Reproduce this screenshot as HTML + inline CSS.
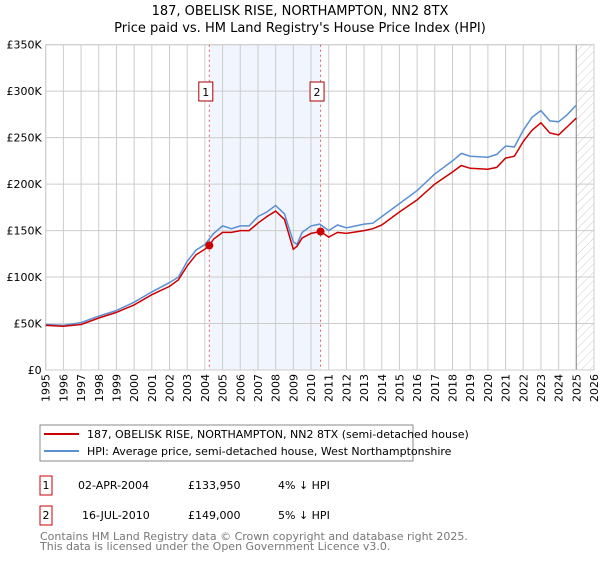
<!DOCTYPE html>
<html><head><meta charset="utf-8"><style>
body{margin:0;background:#fff;font-family:"DejaVu Sans","Liberation Sans",sans-serif;}
svg text{font-family:"DejaVu Sans","Liberation Sans",sans-serif;}
</style></head><body>
<svg id="chart" width="600" height="560" viewBox="0 0 600 560" xmlns="http://www.w3.org/2000/svg">
<defs><pattern id="hatch" patternUnits="userSpaceOnUse" width="6" height="6" patternTransform="rotate(45)"><line x1="0" y1="0" x2="0" y2="6" stroke="#ccc" stroke-width="1"/></pattern></defs>
<text x="300" y="15" text-anchor="middle" font-size="13">187, OBELISK RISE, NORTHAMPTON, NN2 8TX</text>
<text x="300" y="32" text-anchor="middle" font-size="13">Price paid vs. HM Land Registry's House Price Index (HPI)</text>
<g id="plot"></g>
<g>
<rect x="40" y="425" width="373" height="36" fill="#fff" stroke="#888"/>
<line x1="44" y1="434" x2="79" y2="434" stroke="#cc0000" stroke-width="2"/>
<text x="87" y="438" font-size="11">187, OBELISK RISE, NORTHAMPTON, NN2 8TX (semi-detached house)</text>
<line x1="44" y1="451" x2="79" y2="451" stroke="#5b8fd4" stroke-width="2"/>
<text x="87" y="455" font-size="11">HPI: Average price, semi-detached house, West Northamptonshire</text>
</g>
<g font-size="11">
<rect x="40" y="476" width="12" height="19" fill="#fff" stroke="#cc0000"/>
<text x="46" y="489" text-anchor="middle">1</text>
<text x="78" y="489">02-APR-2004</text>
<text x="188" y="489">£133,950</text>
<text x="278" y="489">4% ↓ HPI</text>
<rect x="40" y="506" width="12" height="19" fill="#fff" stroke="#cc0000"/>
<text x="46" y="519" text-anchor="middle">2</text>
<text x="82" y="519">16-JUL-2010</text>
<text x="188" y="519">£149,000</text>
<text x="278" y="519">5% ↓ HPI</text>
</g>
<text x="40" y="540" font-size="11" fill="#777">Contains HM Land Registry data © Crown copyright and database right 2025.</text>
<text x="40" y="550" font-size="11" fill="#777">This data is licensed under the Open Government Licence v3.0.</text>
</svg>
<script>
const hpiYears=[1995,1996,1997,1998,1999,2000,2001,2002,2002.5,2003,2003.5,2004,2004.5,2005,2005.5,2006,2006.5,2007,2007.5,2008,2008.5,2009,2009.2,2009.5,2010,2010.5,2011,2011.5,2012,2013,2013.5,2014,2015,2016,2017,2018,2018.5,2019,2020,2020.5,2021,2021.5,2022,2022.5,2023,2023.5,2024,2024.5,2025];
const hpiValues=[49000,48000,51000,58000,64000,73000,84000,94000,100000,117000,129000,135000,147000,155000,152000,155000,155000,165000,170000,177000,168000,138000,135000,148000,155000,157000,150000,156000,153000,157000,158000,165000,179000,193000,211000,225000,233000,230000,229000,232000,241000,240000,258000,272000,279000,268000,267000,275000,285000];
const propYears=[1995,1996,1997,1998,1999,2000,2001,2002,2002.5,2003,2003.5,2004,2004.25,2004.5,2005,2005.5,2006,2006.5,2007,2007.5,2008,2008.5,2009,2009.2,2009.5,2010,2010.54,2011,2011.5,2012,2013,2013.5,2014,2015,2016,2017,2018,2018.5,2019,2020,2020.5,2021,2021.5,2022,2022.5,2023,2023.5,2024,2024.5,2025];
const propValues=[48000,47000,49000,56000,62000,70000,81000,90000,97000,112000,124000,130000,133950,141000,148000,148000,150000,150000,158000,165000,171000,162000,130000,133000,142000,147000,149000,143000,148000,147000,150000,152000,156000,170000,183000,200000,213000,220000,217000,216000,218000,228000,230000,246000,258000,266000,255000,253000,262000,271000];
const saleYears=[2004.25,2010.54];
const saleValues=[133950,149000];
const saleLabels=["1","2"];
const yTicks=[0,50000,100000,150000,200000,250000,300000,350000];
const yTickLabels=["£0","£50K","£100K","£150K","£200K","£250K","£300K","£350K"];
const xTicks=[1995,1996,1997,1998,1999,2000,2001,2002,2003,2004,2005,2006,2007,2008,2009,2010,2011,2012,2013,2014,2015,2016,2017,2018,2019,2020,2021,2022,2023,2024,2025,2026];

const X0=45.7,X1=594,Y0=370,Y1=44.7;
const xs=y=>X0+(y-1995)/(2026-1995)*(X1-X0);
const ys=v=>Y0-v/350000*(Y0-Y1);
const NS="http://www.w3.org/2000/svg";
const plot=document.getElementById('plot');
function mk(tag,attrs){const e=document.createElementNS(NS,tag);for(const k in attrs)e.setAttribute(k,attrs[k]);plot.appendChild(e);return e;}

let band=mk('rect',{x:xs(saleYears[0]),y:Y1,width:xs(saleYears[1])-xs(saleYears[0]),height:Y0-Y1,fill:'#eef3fc',opacity:0.8});


let hatch=mk('rect',{x:xs(2025),y:Y1,width:X1-xs(2025),height:Y0-Y1,fill:'url(#hatch)'});


yTicks.forEach((t,i)=>{
  let g=mk('line',{x1:X0,x2:X1,y1:ys(t),y2:ys(t),stroke:'#cccccc','stroke-width':1});
  
  
  let tx=mk('text',{x:X0-4,y:ys(t)+4,'text-anchor':'end','font-size':'11'});
  tx.textContent=yTickLabels[i];
  
  
});
xTicks.forEach(t=>{
  let g=mk('line',{x1:xs(t),x2:xs(t),y1:Y1,y2:Y0,stroke:'#cccccc','stroke-width':1});
  
  
  const px=xs(t)+4, py=374;
  let tx=mk('text',{x:px,y:py,'text-anchor':'end','font-size':'11',transform:'rotate(-90 '+px.toFixed(1)+' '+py+')'});
  tx.textContent=t;
  
  
});
let vl=mk('line',{x1:xs(2025),x2:xs(2025),y1:Y1,y2:Y0,stroke:'#999','stroke-width':1.2});


let frame=mk('rect',{x:X0,y:Y1,width:X1-X0,height:Y0-Y1,fill:'none',stroke:'#cccccc'});


saleYears.forEach((y,i)=>{
  let l=mk('line',{x1:xs(y),x2:xs(y),y1:Y1,y2:Y0,stroke:'#e06060','stroke-width':1,'stroke-dasharray':'2,3'});
  
  
});
function path(xsArr,vs){return xsArr.map((y,i)=>(i?'L':'M')+xs(y).toFixed(1)+','+ys(vs[i]).toFixed(1)).join(' ');}
let hp=mk('path',{d:path(hpiYears,hpiValues),fill:'none',stroke:'#5b8fd4','stroke-width':1.5});


let pp=mk('path',{d:path(propYears,propValues),fill:'none',stroke:'#cc0000','stroke-width':1.5});


saleYears.forEach((y,i)=>{
  let c=mk('circle',{cx:xs(y),cy:ys(saleValues[i]),r:4,fill:'#cc0000'});
  
  
  let bx=xs(y)-3.5;
  let r=mk('rect',{x:bx-7,y:82,width:14,height:19,fill:'#fff',stroke:'#aa0000'});
  
  
  let t=mk('text',{x:bx,y:96,'text-anchor':'middle','font-size':'11'});
  t.textContent=saleLabels[i];
  
  
});
</script>
</body></html>
